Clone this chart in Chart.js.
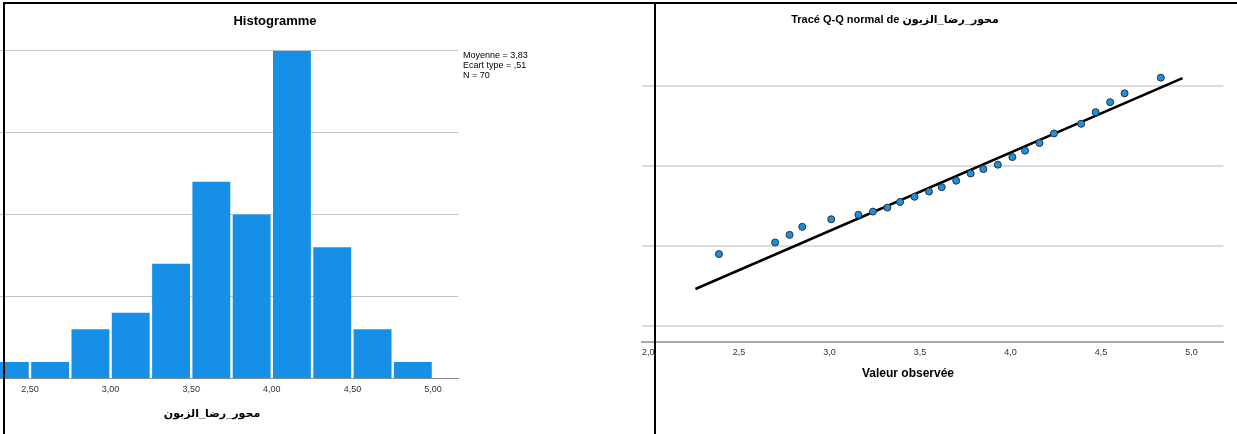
<!DOCTYPE html>
<html>
<head>
<meta charset="utf-8">
<script src="https://cdn.jsdelivr.net/npm/chart.js@4.4.1/dist/chart.umd.min.js"></script>
<style>
  html, body { margin: 0; padding: 0; background: #fff; }
  body { width: 1237px; height: 434px; position: relative; overflow: hidden; }
  canvas { position: absolute; top: 0; }
  #histo { left: 0; }
  #qq { left: 620px; }
  .trait { position: absolute; background: #000; z-index: 5; }
</style>
</head>
<body>
<canvas id="histo" width="655" height="434"></canvas>
<canvas id="qq" width="617" height="434"></canvas>
<div class="trait" style="left:3px;top:2px;width:1234px;height:2px"></div>
<div class="trait" style="left:3px;top:2px;width:2px;height:432px"></div>
<div class="trait" style="left:654px;top:2px;width:2px;height:432px"></div>
<script>
// histogramme : centres des classes (largeur 0,25) et effectifs
const binCenters = [2.375, 2.625, 2.875, 3.125, 3.375, 3.625, 3.875, 4.125, 4.375, 4.625, 4.875];
const binCounts = [1, 1, 3, 4, 7, 12, 10, 20, 8, 3, 1];
const histoTicks = [2.5, 3.0, 3.5, 4.0, 4.5, 5.0];
const countGrid = [5, 10, 15, 20];
const statsLines = ["Moyenne = 3,83", "Ecart type = ,51", "N = 70"];

// Q-Q : valeurs observees et valeurs normales attendues
const observed = [2.39, 2.70, 2.78, 2.85, 3.01, 3.16, 3.24, 3.32, 3.39, 3.47, 3.55, 3.62, 3.70,
                  3.78, 3.85, 3.93, 4.01, 4.08, 4.16, 4.24, 4.39, 4.47, 4.55, 4.63, 4.83];
const expected = [-2.20, -1.91, -1.72, -1.52, -1.33, -1.22, -1.14, -1.04, -0.90, -0.77, -0.64, -0.53, -0.37,
                  -0.19, -0.08, 0.03, 0.22, 0.38, 0.57, 0.81, 1.05, 1.34, 1.59, 1.81, 2.20];
const lineX = [2.26, 4.95];
const lineY = [-3.07, 2.19];
const qqTicks = [2.0, 2.5, 3.0, 3.5, 4.0, 4.5, 5.0];
const qqGrid = [-4, -2, 0, 2];

const police = "'Liberation Sans', Arial, 'DejaVu Sans', sans-serif";
const virgule = (v, d) => v.toFixed(d).replace(".", ",");

// petit plugin pour poser les textes (titres, stats)
function textes(items) {
    return {
        id: "textes",
        afterDraw(chart) {
            const ctx = chart.ctx;
            ctx.save();
            items.forEach((t) => {
                ctx.font = t.font;
                ctx.fillStyle = "#000";
                ctx.textAlign = t.align || "center";
                ctx.textBaseline = "middle";
                ctx.fillText(t.text, t.x, t.y);
            });
            ctx.restore();
        },
    };
}

new Chart(document.getElementById("histo"), {
    type: "bar",
    data: {
        datasets: [
            {
                data: binCenters.map((c, i) => ({ x: c, y: binCounts[i] })),
                backgroundColor: "#1590e6",
                borderWidth: 0,
                barPercentage: 0.94,
                categoryPercentage: 1,
            },
        ],
    },
    options: {
        responsive: false,
        animation: false,
        layout: { padding: { left: 0, right: 655 - 458.3, top: 50.7, bottom: 0 } },
        plugins: { legend: { display: false }, tooltip: { enabled: false } },
        scales: {
            x: {
                type: "linear",
                offset: false,
                min: 2.314,
                max: 5.157,
                afterBuildTicks: (s) => { s.ticks = histoTicks.map((v) => ({ value: v })); },
                afterFit: (s) => { s.height = 434 - 378.3; s.paddingLeft = 0; s.paddingRight = 0; },
                grid: { display: false, drawTicks: false, tickLength: 0, offset: false },
                border: { display: true, color: "#8c8c8c", width: 1 },
                ticks: {
                    padding: 6,
                    color: "#333",
                    maxRotation: 0,
                    font: { family: police, size: 9 },
                    callback: (v) => virgule(v, 2),
                },
            },
            y: {
                min: 0,
                max: 20,
                afterBuildTicks: (s) => { s.ticks = countGrid.map((v) => ({ value: v })); },
                afterFit: (s) => { s.width = 0; },
                ticks: { display: false },
                grid: { color: "#c4c4c4", lineWidth: 1, drawTicks: false },
                border: { display: false },
            },
        },
    },
    plugins: [
        textes([
            { text: "Histogramme", x: 275, y: 21, font: "bold 13px " + police },
            { text: statsLines[0], x: 463, y: 56, font: "9px " + police, align: "left" },
            { text: statsLines[1], x: 463, y: 66, font: "9px " + police, align: "left" },
            { text: statsLines[2], x: 463, y: 76, font: "9px " + police, align: "left" },
            { text: "محور_رضا_الزبون", x: 212, y: 414, font: "bold 11px " + police },
        ]),
    ],
});

new Chart(document.getElementById("qq"), {
    type: "scatter",
    data: {
        datasets: [
            {
                data: observed.map((v, i) => ({ x: v, y: expected[i] })),
                pointRadius: 3.5,
                pointBackgroundColor: "#1b8fe2",
                pointBorderColor: "#263238",
                pointBorderWidth: 1,
                showLine: false,
            },
            {
                data: lineX.map((v, i) => ({ x: v, y: lineY[i] })),
                showLine: true,
                borderColor: "#000",
                borderWidth: 2.5,
                pointRadius: 0,
            },
        ],
    },
    options: {
        responsive: false,
        animation: false,
        layout: { padding: { left: 22, right: 617 - 603.3, top: 50, bottom: 0 } },
        plugins: { legend: { display: false }, tooltip: { enabled: false } },
        scales: {
            x: {
                type: "linear",
                min: 1.965,
                max: 5.175,
                afterBuildTicks: (s) => { s.ticks = qqTicks.map((v) => ({ value: v })); },
                afterFit: (s) => { s.height = 434 - 341.7; s.paddingLeft = 0; s.paddingRight = 0; },
                grid: { display: false, drawTicks: false, tickLength: 0 },
                border: { display: true, color: "#a8a8a8", width: 2 },
                ticks: {
                    padding: 5,
                    color: "#333",
                    maxRotation: 0,
                    font: { family: police, size: 9 },
                    callback: (v) => virgule(v, 1),
                },
            },
            y: {
                min: -4.384,
                max: 2.89,
                afterBuildTicks: (s) => { s.ticks = qqGrid.map((v) => ({ value: v })); },
                afterFit: (s) => { s.width = 0; },
                ticks: { display: false },
                grid: { color: "#dcdcdc", lineWidth: 2, drawTicks: false },
                border: { display: false },
            },
        },
    },
    plugins: [
        textes([
            { text: "Tracé Q-Q normal de محور_رضا_الزبون", x: 275, y: 20, font: "bold 11px " + police },
            { text: "Valeur observée", x: 288, y: 374, font: "bold 12px " + police },
        ]),
    ],
});
</script>
</body>
</html>
